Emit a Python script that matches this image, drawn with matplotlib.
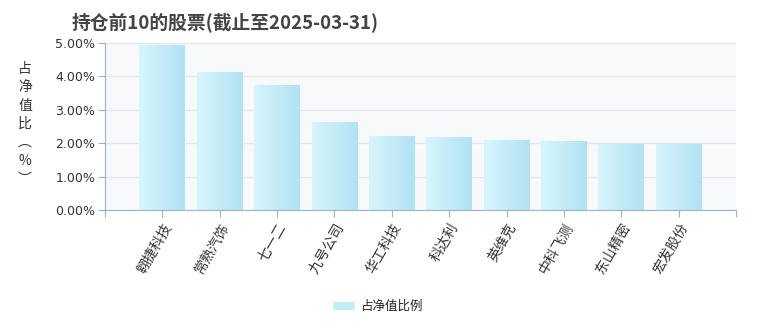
import numpy as np
import matplotlib.pyplot as plt
from matplotlib.colors import LinearSegmentedColormap
from matplotlib.patches import Rectangle

plt.rcParams['font.family'] = ['Noto Sans CJK SC', 'DejaVu Sans']

# data
stocks = ['翱捷科技', '常熟汽饰', '七一二', '九号公司', '华工科技',
          '科达利', '英维克', '中科飞测', '东山精密', '宏发股份']
weights = [4.94, 4.13, 3.74, 2.63, 2.22, 2.19, 2.10, 2.07, 1.97, 1.97]
yticks = [0, 1, 2, 3, 4, 5]

fig = plt.figure(figsize=(7.6, 3.3), dpi=100)
ax = fig.add_axes([105 / 760, 1 - 210 / 330, 631 / 760, 167 / 330])
ax.set_facecolor('#f7f9fb')

x = np.arange(len(stocks))
bars = ax.bar(x, weights, width=0.8, color='none', zorder=2)

# horizontal gradient in each bar
grad = LinearSegmentedColormap.from_list('g', ['#d8f5fc', '#b1e2f4'])
g = np.linspace(0, 1, 64).reshape(1, -1)
for b in bars:
    x0, w, h = b.get_x(), b.get_width(), b.get_height()
    im = ax.imshow(g, cmap=grad, aspect='auto', extent=[x0, x0 + w, 0, h],
                   zorder=2, interpolation='bicubic')
    im.set_clip_path(b)

ax.set_xlim(-1, len(stocks))
ax.set_ylim(0, 5)
ax.set_yticks(yticks)
ax.set_yticklabels([f'{v:.2f}%' for v in yticks], fontsize=9, color='#333333',
                   family=['DejaVu Sans'])
ax.set_xticks(np.arange(-1, len(stocks) + 1))
ax.set_xticklabels([''] + stocks + [''], rotation=60, ha='right', va='top',
                   rotation_mode='anchor', fontsize=10, color='#333333')
ax.tick_params(axis='x', length=5, color='#99b4c8', pad=3)
ax.tick_params(axis='y', length=5, color='#99b4c8', pad=2)
ax.grid(axis='y', color='#e3e8ef', linewidth=1, zorder=1)
ax.set_axisbelow(True)
for s in ['top', 'right']:
    ax.spines[s].set_visible(False)
for s in ['left', 'bottom']:
    ax.spines[s].set_color('#99b4c8')

fig.text(72 / 760, 1 - 22 / 330, '持仓前10的股票(截止至2025-03-31)', fontsize=13.5,
         fontweight='bold', color='#444444', ha='left', va='center')
fig.text(25 / 760, 1 - 124 / 330, '\n'.join(['占', '净', '值', '比', '︵', '%', '︶']),
         fontsize=10, color='#333333', ha='center', va='center', linespacing=1.4)

# legend
fig.patches.append(Rectangle((333 / 760, 1 - 310 / 330), 22 / 760, 8 / 330,
                             transform=fig.transFigure, facecolor='#c4ecf8',
                             edgecolor='none'))
fig.text(360 / 760, 1 - 306 / 330, '占净值比例', fontsize=9, color='#222222',
         ha='left', va='center')

fig.savefig('out.png', dpi=100)
